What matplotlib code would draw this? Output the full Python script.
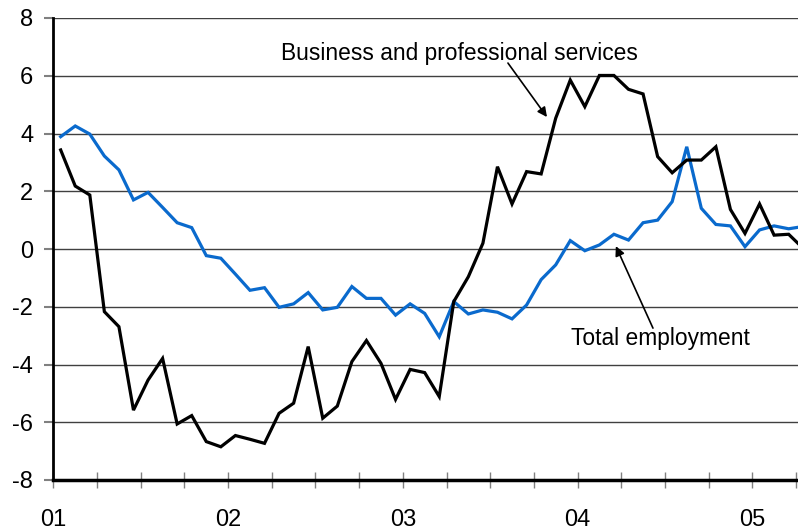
import numpy as np
import matplotlib.pyplot as plt

plt.rcParams['font.family'] = ['Liberation Sans', 'DejaVu Sans']

# monthly, Jan 2001 .. Apr 2005
business = [3.43, 2.18, 1.87, -2.17, -2.69, -5.58, -4.54, -3.79, -6.06, -5.77,
            -6.67, -6.85, -6.46, -6.59, -6.73, -5.69, -5.34, -3.38, -5.86, -5.44,
            -3.90, -3.17, -3.96, -5.21, -4.17, -4.28, -5.11, -1.82, -0.96, 0.20,
            2.85, 1.56, 2.68, 2.60, 4.53, 5.85, 4.93, 6.01, 6.01, 5.53,
            5.37, 3.20, 2.64, 3.08, 3.08, 3.54, 1.37, 0.54, 1.56, 0.48,
            0.51, 0.02]
total = [3.89, 4.26, 3.98, 3.22, 2.74, 1.70, 1.96, 1.44, 0.91, 0.74,
         -0.23, -0.32, -0.87, -1.43, -1.34, -2.02, -1.90, -1.51, -2.11, -2.02,
         -1.30, -1.71, -1.71, -2.29, -1.90, -2.23, -3.04, -1.82, -2.25, -2.11,
         -2.19, -2.42, -1.94, -1.06, -0.55, 0.29, -0.06, 0.14, 0.51, 0.31,
         0.91, 1.00, 1.64, 3.54, 1.41, 0.85, 0.80, 0.08, 0.66, 0.80,
         0.70, 0.78]
year_labels = ['01', '02', '03', '04', '05']

x = np.arange(len(business)) + 0.5

fig = plt.figure(figsize=(7.98, 5.31), dpi=100)
ax = fig.add_axes([53.4 / 798, 1 - 480 / 531, (810.5 - 53.4) / 798, (480 - 18) / 531])

ax.plot(x, total, color='#0A6ACD', lw=2.3, solid_joinstyle='miter', zorder=3)
ax.plot(x, business, color='black', lw=2.3, solid_joinstyle='miter', zorder=4)

ax.set_xlim(0, 52)
ax.set_ylim(-8, 8)
ax.set_yticks(range(-8, 9, 2))
ax.set_yticklabels([str(v) for v in range(-8, 9, 2)], fontsize=17)
ax.yaxis.grid(True, color='#404040', lw=1.0)
ax.set_axisbelow(True)

ax.set_xticks(range(0, 52, 3))
ax.set_xticklabels([year_labels[t // 12] if t % 12 == 0 else '' for t in range(0, 52, 3)],
                   fontsize=17)
ax.tick_params(axis='x', direction='inout', length=11.5, width=1, color='#808080', pad=15)
ax.tick_params(axis='y', direction='out', length=6.5, width=1.5, color='#808080', pad=8)

for s in ['top', 'right']:
    ax.spines[s].set_visible(False)
ax.spines['left'].set_linewidth(2)
ax.spines['bottom'].set_linewidth(2.5)
ax.spines['bottom'].set_zorder(5)

arrow = dict(arrowstyle='-|>', color='black', lw=1.2, mutation_scale=14, shrinkA=0, shrinkB=0)
ax.text(27.86, 6.545, 'Business and professional services', fontsize=16.4,
        ha='center', va='baseline')
ax.annotate('', xy=(33.9, 4.57), xytext=(31.22, 6.44), arrowprops=arrow)
ax.text(41.66, -3.32, 'Total employment', fontsize=16.4, ha='center', va='baseline')
ax.annotate('', xy=(38.63, 0.1), xytext=(41.18, -2.74), arrowprops=arrow)

fig.savefig('out.png', dpi=100)
